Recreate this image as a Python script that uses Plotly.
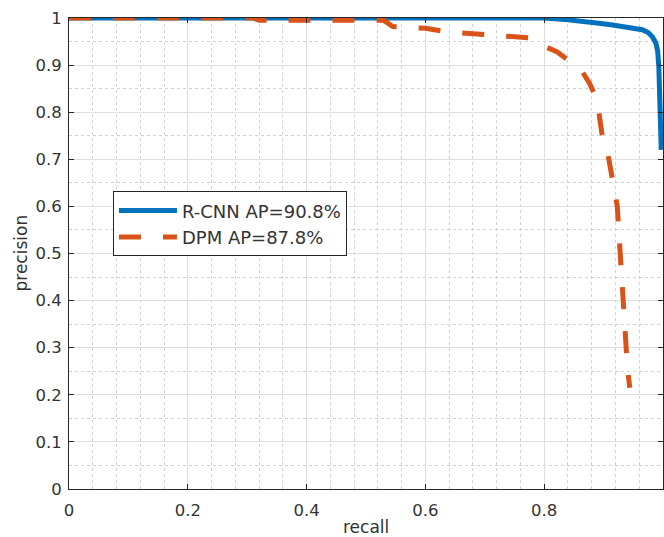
import plotly.graph_objects as go

# ---- data ----
rcnn_recall = [0, 0.80, 0.84, 0.87, 0.892, 0.915, 0.938, 0.955, 0.965, 0.975,
               0.982, 0.988, 0.991, 0.993, 0.995, 0.997]
rcnn_precision = [1, 1, 0.996, 0.993, 0.989, 0.985, 0.981, 0.978, 0.975, 0.969,
                  0.96, 0.947, 0.93, 0.896, 0.82, 0.72]

dpm_recall = [0, 0.31, 0.32, 0.53, 0.545, 0.60, 0.64, 0.70, 0.74, 0.775, 0.79,
              0.80, 0.822, 0.845, 0.862, 0.876, 0.884, 0.892, 0.897, 0.906,
              0.912, 0.918, 0.923, 0.928, 0.932, 0.936, 0.94, 0.944]
dpm_precision = [1, 1, 0.995, 0.995, 0.982, 0.978, 0.970, 0.965, 0.962, 0.958,
                 0.95, 0.94, 0.928, 0.907, 0.89, 0.862, 0.84, 0.80, 0.756, 0.72,
                 0.68, 0.641, 0.60, 0.50, 0.42, 0.33, 0.26, 0.215]

series_names = ["R-CNN AP=90.8%", "DPM AP=87.8%"]
x_title = "recall"
y_title = "precision"

x_tickvals = [0, 0.2, 0.4, 0.6, 0.8, 1]
x_ticktext = ["0", "0.2", "0.4", "0.6", "0.8", "1"]
y_tickvals = [0, 0.1, 0.2, 0.3, 0.4, 0.5, 0.6, 0.7, 0.8, 0.9, 1]
y_ticktext = ["0", "0.1", "0.2", "0.3", "0.4", "0.5", "0.6", "0.7", "0.8", "0.9", "1"]

FONT = "DejaVu Sans, sans-serif"
AXC = "#262626"
TXC = "#333333"

fig = go.Figure()
fig.add_trace(go.Scatter(x=rcnn_recall, y=rcnn_precision, mode="lines",
                         name=series_names[0],
                         line=dict(color="#0072BD", width=5)))
fig.add_trace(go.Scatter(x=dpm_recall, y=dpm_precision, mode="lines",
                         name=series_names[1],
                         line=dict(color="#D95319", width=5, dash="22px,22px")))

axis_common = dict(
    showline=True, linecolor=AXC, linewidth=1, mirror="ticks",
    ticks="inside", ticklen=5, tickcolor=AXC, tickwidth=1,
    showgrid=True, gridcolor="#dedede", gridwidth=1,
    zeroline=False, automargin=False,
    tickfont=dict(family=FONT, size=16.5, color=TXC),
)

fig.update_xaxes(range=[0, 1], tickvals=x_tickvals, ticktext=x_ticktext,
                 minor=dict(dtick=0.04, tick0=0, showgrid=True, gridcolor="#d2d2d2",
                            griddash="dot", gridwidth=1, ticks=""),
                 ticklabelstandoff=6,
                 **axis_common)
fig.update_yaxes(range=[0, 1], tickvals=y_tickvals, ticktext=y_ticktext,
                 minor=dict(dtick=0.05, tick0=0, showgrid=True, gridcolor="#d2d2d2",
                            griddash="dot", gridwidth=1, ticks=""),
                 ticklabelstandoff=3,
                 **axis_common)

# axis titles as text annotations (placed like the original)
fig.add_annotation(text=x_title, xref="paper", yref="paper", x=0.5, y=0,
                   yshift=-38, xanchor="center", yanchor="middle", showarrow=False,
                   font=dict(family=FONT, size=17, color=TXC))
fig.add_annotation(text=y_title, xref="paper", yref="paper", x=0, y=0.5,
                   xshift=-49, xanchor="center", yanchor="middle", showarrow=False,
                   textangle=-90, font=dict(family=FONT, size=17, color=TXC))

fig.update_layout(
    template="none",
    width=664, height=537,
    margin=dict(l=69, r=1, t=18, b=48),
    paper_bgcolor="white", plot_bgcolor="white",
    font=dict(family=FONT, color=TXC),
    showlegend=True,
    legend=dict(x=0.074, y=0.632, xanchor="left", yanchor="top",
                bgcolor="white", bordercolor=AXC, borderwidth=1,
                font=dict(family=FONT, size=18, color=TXC),
                itemwidth=58, tracegroupgap=0),
)

fig.write_html("out.html")
